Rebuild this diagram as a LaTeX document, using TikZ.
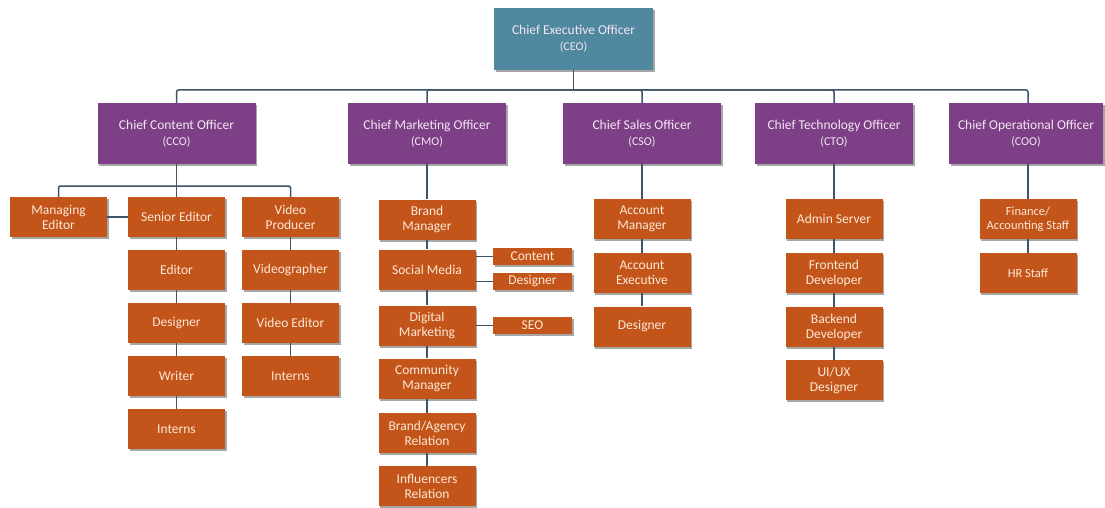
\documentclass[tikz,border=0pt]{standalone}
\usepackage{fontspec}
\setmainfont{Carlito}
\usetikzlibrary{shadows}
\definecolor{ceoblue}{HTML}{5088A0}
\definecolor{offpurple}{HTML}{7D3F86}
\definecolor{staffor}{HTML}{C4551A}
\definecolor{linkc}{HTML}{3E5468}
\definecolor{offtext}{HTML}{F3E6F3}
\definecolor{stafftext}{HTML}{FBE8D6}
\tikzset{
  base/.style={rectangle, inner sep=1pt, align=center,
    drop shadow={shadow xshift=1.5pt, shadow yshift=-2pt, opacity=0.35, fill=black}},
  ceobox/.style={base, fill=ceoblue, text=offtext, minimum width=159pt, minimum height=62pt, font=\fontsize{13.5}{16}\selectfont},
  offbox/.style={base, fill=offpurple, text=offtext, minimum width=158pt, minimum height=61pt, font=\fontsize{13.5}{16}\selectfont},
  staffbox/.style={base, fill=staffor, text=stafftext, minimum width=97pt, minimum height=40pt, font=\fontsize{13.5}{15}\selectfont},
  smallbox/.style={base, fill=staffor, text=stafftext, minimum width=79pt, minimum height=17pt, font=\fontsize{13.5}{14}\selectfont},
  link/.style={draw=linkc, line width=1.5pt, rounded corners=2pt}
}
\newcommand{\abr}[1]{{\fontsize{12}{14}\selectfont #1}}
\begin{document}
\begin{tikzpicture}[x=1pt,y=-1pt]
\useasboundingbox[fill=white] (0,0) rectangle (1105,508);

\coordinate (bus) at (573.5,90);
\coordinate (ccobus) at (176.5,186);

% CEO and officers
\node[ceobox] (ceo) at (573.5,39) {Chief Executive Officer\\\abr{(CEO)}};
\node[offbox] (cco) at (176.5,133.5) {Chief Content Officer\\\abr{(CCO)}};
\node[offbox] (cmo) at (427,133.5) {Chief Marketing Officer\\\abr{(CMO)}};
\node[offbox] (cso) at (642,133.5) {Chief Sales Officer\\\abr{(CSO)}};
\node[offbox] (cto) at (834,133.5) {Chief Technology Officer\\\abr{(CTO)}};
\node[offbox, minimum width=154pt] (coo) at (1026,133.5) {Chief Operational Officer\\\abr{(COO)}};

% CCO staff
\node[staffbox] (me) at (58.5,217) {Managing\\Editor};
\node[staffbox] (se) at (176.5,217) {Senior Editor};
\node[staffbox] (vp) at (290.5,217) {Video\\Producer};
\node[staffbox] (ed) at (176.5,270) {Editor};
\node[staffbox] (des1) at (176.5,323) {Designer};
\node[staffbox] (wr) at (176.5,376) {Writer};
\node[staffbox] (int1) at (176.5,429) {Interns};
\node[staffbox] (vg) at (290.5,270) {Videographer};
\node[staffbox] (ve) at (290.5,323) {Video Editor};
\node[staffbox] (int2) at (290.5,376) {Interns};

% CMO staff
\node[staffbox] (bm) at (427,219.5) {Brand\\Manager};
\node[staffbox] (sm) at (427,269.5) {Social Media};
\node[staffbox] (dm) at (427,325.5) {Digital\\Marketing};
\node[staffbox] (cm) at (427,378.5) {Community\\Manager};
\node[staffbox] (ba) at (427,433) {Brand/Agency\\Relation};
\node[staffbox] (ir) at (427,486) {Influencers\\Relation};
\node[smallbox] (cont) at (532.5,256.5) {Content};
\node[smallbox] (des2) at (532.5,281.5) {Designer};
\node[smallbox] (seo) at (532.5,325.5) {SEO};

% CSO staff
\node[staffbox] (am) at (642,219) {Account\\Manager};
\node[staffbox] (ae) at (642,273) {Account\\Executive};
\node[staffbox] (des3) at (642,326.5) {Designer};

% CTO staff
\node[staffbox] (as) at (834,219) {Admin Server};
\node[staffbox] (fd) at (834,273) {Frontend\\Developer};
\node[staffbox] (bd) at (834,327) {Backend\\Developer};
\node[staffbox] (ux) at (834,380) {UI/UX\\Designer};

% COO staff
\node[staffbox, font=\fontsize{12.5}{14}\selectfont] (fa) at (1028,219) {Finance/\\Accounting Staff};
\node[staffbox, font=\fontsize{12.5}{14}\selectfont] (hr) at (1028,273) {HR Staff};

% connectors
\path[link] (ceo.south) -- (bus);
\foreach \o in {cco,cmo,cso,cto}{\path[link] (bus) -| (\o.north);}
\path[link] (bus) -| (fa.north |- coo.north);
\path[link] (cco.south) -- (se.north);
\path[link] (ccobus) -| (me.north);
\path[link] (ccobus) -| (vp.north);
\path[link] (me.east) -- (se.west);
\path[link] (se.south) -- (ed.north);
\path[link] (ed.south) -- (des1.north);
\path[link] (des1.south) -- (wr.north);
\path[link] (wr.south) -- (int1.north);
\path[link] (vp.south) -- (vg.north);
\path[link] (vg.south) -- (ve.north);
\path[link] (ve.south) -- (int2.north);
\path[link] (cmo.south) -- (bm.north);
\path[link] (bm.south) -- (sm.north);
\path[link] (sm.south) -- (dm.north);
\path[link] (dm.south) -- (cm.north);
\path[link] (cm.south) -- (ba.north);
\path[link] (ba.south) -- (ir.north);
\path[link] (sm.east |- cont.west) -- (cont.west);
\path[link] (sm.east |- des2.west) -- (des2.west);
\path[link] (dm.east) -- (seo.west);
\path[link] (cso.south) -- (am.north);
\path[link] (am.south) -- (ae.north);
\path[link] (ae.south) -- (des3.north);
\path[link] (cto.south) -- (as.north);
\path[link] (as.south) -- (fd.north);
\path[link] (fd.south) -- (bd.north);
\path[link] (bd.south) -- (ux.north);
\path[link] (fa.north |- coo.south) -- (fa.north);
\path[link] (fa.south) -- (hr.north);
\end{tikzpicture}
\end{document}
